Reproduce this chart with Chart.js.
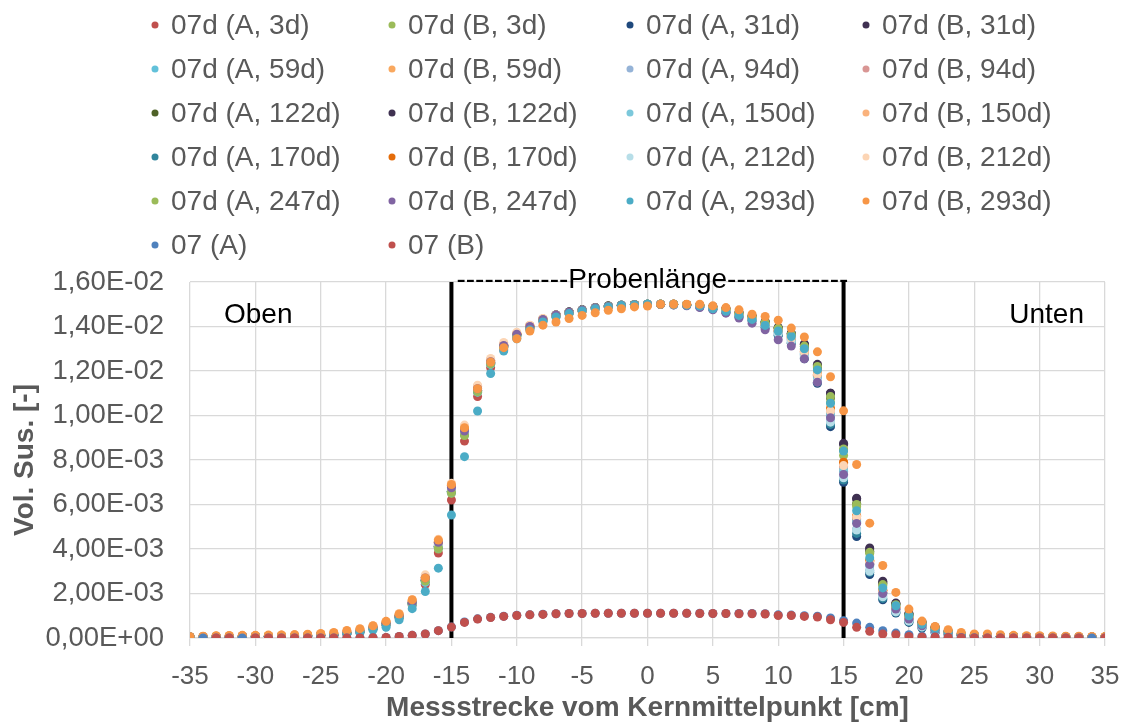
<!DOCTYPE html>
<html>
<head>
<meta charset="utf-8">
<script src="https://cdn.jsdelivr.net/npm/chart.js@4.4.1/dist/chart.umd.min.js"></script>
<style>
  html, body { margin: 0; padding: 0; background: #fff; }
  #wrap { width: 1125px; height: 724px; }
</style>
</head>
<body>
<div id="wrap"><canvas id="susChart" width="1125" height="724"></canvas></div>
<script>
// Messpositionen in cm (-35 ... 35)
const positions = [
  -35,-34,-33,-32,-31,-30,-29,-28,-27,-26,-25,-24,
  -23,-22,-21,-20,-19,-18,-17,-16,-15,-14,-13,-12,-11,-10,-9,-8,-7,-6,-5,-4,-3,-2,-1,
  0,1,2,3,4,5,6,7,8,9,10,11,12,13,14,15,16,17,18,19,20,21,22,23,
  24,25,26,27,28,29,30,31,32,33,34,35
];

// Vol. Sus. in Einheiten von 1E-03
const a3d = [0.05,0.05,0.06,0.06,0.07,0.07,0.08,0.08,0.09,0.1,0.11,0.14,
  0.2,0.28,0.42,0.6,0.92, 1.48,2.4,3.82,6.2,8.85, 10.85,12.15,12.95,13.5,13.9, 14.25,14.45,14.6,14.7,14.8,
  14.88,14.93,14.97,14.98,15.0, 15.0,14.97,14.92,14.85,14.72, 14.55,14.38,14.1,13.8,13.48,
  12.85,11.8,10.1,7.7,5.35, 3.35,2.05,1.3,0.88,0.58, 0.37,0.24,
  0.15,0.11,0.09,0.08,0.07,0.06,0.06,0.05,0.05,0.05,0.04,0.04];
const b3d = [0.05,0.05,0.06,0.06,0.07,0.07,0.08,0.08,0.09,0.1,0.11,0.14,
  0.22,0.3,0.45,0.63,0.96, 1.55,2.55,4.0,6.5,9.1, 11.05,12.3,13.05,13.6,13.95, 14.3,14.5,14.62,14.73,14.83,
  14.9,14.95,14.98,15.0,15.0, 15.0,14.98,14.94,14.86,14.76, 14.58,14.42,14.15,13.9,13.6,
  13.0,12.05,10.6,8.2,5.9, 3.8,2.35,1.5,1.0,0.65, 0.42,0.27,
  0.15,0.11,0.09,0.08,0.07,0.06,0.06,0.05,0.05,0.05,0.04,0.04];
const a31d = [0.05,0.05,0.06,0.06,0.07,0.07,0.08,0.08,0.09,0.1,0.11,0.14,
  0.21,0.29,0.44,0.62,0.95, 1.55,2.6,4.1,6.6,9.2, 11.1,12.35,13.1,13.6,13.95, 14.3,14.5,14.62,14.73,14.83,
  14.9,14.95,14.98,15.0,15.0, 14.98,14.95,14.88,14.78,14.65, 14.45,14.28,13.95,13.6,13.25,
  12.55,11.45,9.5,7.0,4.56, 2.85,1.72,1.12,0.7,0.45, 0.25,0.15,
  0.12,0.1,0.08,0.07,0.06,0.06,0.05,0.05,0.04,0.04,0.04,0.03];
const b31d = [0.05,0.05,0.06,0.06,0.07,0.07,0.08,0.08,0.09,0.1,0.11,0.14,
  0.22,0.3,0.45,0.64,0.97, 1.57,2.62,4.15,6.65,9.25, 11.15,12.4,13.15,13.65,14.0, 14.33,14.52,14.65,14.75,14.85,
  14.92,14.96,14.99,15.0,15.0, 15.0,14.98,14.95,14.88,14.8, 14.62,14.45,14.2,13.95,13.68,
  13.2,12.25,11.0,8.75,6.28, 4.05,2.55,1.57,1.1,0.72, 0.5,0.3,
  0.17,0.12,0.1,0.08,0.07,0.06,0.06,0.05,0.05,0.05,0.04,0.04];
const a59d = [0.05,0.05,0.06,0.06,0.07,0.07,0.08,0.08,0.09,0.1,0.11,0.14,
  0.21,0.29,0.43,0.6,0.93, 1.5,2.5,4.05,6.55,9.15, 11.05,12.3,13.05,13.58,13.95, 14.28,14.48,14.62,14.73,14.83,
  14.9,14.95,14.98,15.0,15.0, 14.99,14.96,14.9,14.82,14.7, 14.52,14.35,14.05,13.75,13.4,
  12.75,11.7,10.0,7.5,5.2, 3.25,2.0,1.3,0.85,0.56, 0.35,0.22,
  0.15,0.11,0.09,0.08,0.07,0.06,0.06,0.05,0.05,0.05,0.04,0.04];
const b59d = [0.06,0.07,0.08,0.09,0.1,0.1,0.11,0.12,0.13,0.14,0.16,0.2,
  0.28,0.36,0.52,0.72,1.05, 1.68,2.75,4.35,6.85,9.45, 11.3,12.5,13.2,13.7,14.05, 14.35,14.52,14.63,14.73,14.82,
  14.88,14.93,14.97,14.98,15.0, 15.0,14.98,14.93,14.85,14.75, 14.55,14.4,14.12,13.85,13.55,
  12.95,11.95,10.35,7.9,5.45, 3.45,2.15,1.38,0.92,0.62, 0.4,0.26,
  0.18,0.13,0.1,0.09,0.08,0.07,0.07,0.06,0.06,0.05,0.05,0.05];
const a94d = [0.05,0.05,0.06,0.06,0.07,0.07,0.08,0.08,0.09,0.1,0.11,0.14,
  0.22,0.3,0.45,0.63,0.97, 1.57,2.65,4.2,6.7,9.25, 11.15,12.4,13.12,13.62,13.97, 14.3,14.5,14.63,14.74,14.84,
  14.9,14.95,14.98,15.0,15.0, 14.99,14.96,14.9,14.8,14.68, 14.5,14.32,14.02,13.7,13.35,
  12.7,11.6,9.8,7.3,4.9, 3.05,1.9,1.2,0.8,0.52, 0.33,0.2,
  0.14,0.1,0.09,0.08,0.07,0.06,0.06,0.05,0.05,0.05,0.04,0.04];
const b94d = [0.05,0.05,0.06,0.06,0.07,0.07,0.08,0.08,0.09,0.1,0.11,0.14,
  0.23,0.31,0.46,0.65,0.99, 1.6,2.7,4.25,6.75,9.3, 11.2,12.4,13.12,13.62,13.97, 14.3,14.5,14.62,14.73,14.83,
  14.9,14.95,14.98,15.0,15.0, 15.0,14.97,14.92,14.83,14.72, 14.55,14.38,14.08,13.8,13.48,
  12.85,11.8,10.15,7.6,5.3, 3.3,2.05,1.32,0.87,0.58, 0.37,0.24,
  0.15,0.11,0.09,0.08,0.07,0.06,0.06,0.05,0.05,0.05,0.04,0.04];
const a122d = [0.05,0.05,0.06,0.06,0.07,0.07,0.08,0.08,0.09,0.1,0.11,0.14,
  0.21,0.29,0.44,0.62,0.95, 1.55,2.58,4.1,6.6,9.2, 11.12,12.38,13.12,13.63,13.98, 14.32,14.52,14.65,14.75,14.85,
  14.92,14.96,14.99,15.0,15.0, 15.0,14.98,14.94,14.86,14.76, 14.58,14.42,14.18,13.92,13.62,
  13.1,12.15,10.8,8.45,6.05, 3.9,2.45,1.52,1.05,0.68, 0.45,0.28,
  0.16,0.12,0.1,0.08,0.07,0.06,0.06,0.05,0.05,0.05,0.04,0.04];
const b122d = [0.05,0.05,0.06,0.06,0.07,0.07,0.08,0.08,0.09,0.1,0.11,0.14,
  0.22,0.3,0.45,0.63,0.96, 1.56,2.6,4.12,6.62,9.22, 11.13,12.38,13.12,13.63,13.98, 14.32,14.52,14.65,14.75,14.85,
  14.92,14.96,14.99,15.0,15.0, 15.0,14.99,14.96,14.9,14.8, 14.62,14.47,14.22,13.95,13.7,
  13.22,12.3,11.0,8.7,6.25, 4.0,2.5,1.55,1.08,0.7, 0.48,0.3,
  0.17,0.12,0.1,0.08,0.07,0.06,0.06,0.05,0.05,0.05,0.04,0.04];
const a150d = [0.05,0.05,0.06,0.06,0.07,0.07,0.08,0.08,0.09,0.1,0.11,0.14,
  0.21,0.29,0.43,0.61,0.94, 1.52,2.55,4.08,6.58,9.18, 11.08,12.32,13.07,13.58,13.95, 14.28,14.48,14.62,14.73,14.83,
  14.9,14.95,14.98,15.0,15.0, 14.99,14.96,14.9,14.82,14.7, 14.52,14.35,14.05,13.75,13.42,
  12.8,11.75,10.05,7.55,5.25, 3.3,2.02,1.3,0.86,0.56, 0.35,0.22,
  0.15,0.11,0.09,0.08,0.07,0.06,0.06,0.05,0.05,0.05,0.04,0.04];
const b150d = [0.06,0.07,0.08,0.09,0.1,0.1,0.11,0.12,0.13,0.14,0.16,0.2,
  0.27,0.35,0.5,0.7,1.03, 1.66,2.72,4.3,6.8,9.4, 11.28,12.48,13.18,13.68,14.02, 14.33,14.5,14.62,14.72,14.82,
  14.88,14.93,14.97,14.98,15.0, 15.0,14.98,14.93,14.85,14.75, 14.56,14.4,14.12,13.85,13.55,
  12.95,11.95,10.35,7.85,5.45, 3.45,2.15,1.38,0.92,0.62, 0.4,0.26,
  0.18,0.13,0.1,0.09,0.08,0.07,0.07,0.06,0.06,0.05,0.05,0.05];
const a170d = [0.05,0.05,0.06,0.06,0.07,0.07,0.08,0.08,0.09,0.1,0.11,0.14,
  0.21,0.29,0.44,0.62,0.95, 1.54,2.58,4.1,6.6,9.18, 11.1,12.35,13.1,13.6,13.95, 14.3,14.5,14.62,14.73,14.83,
  14.9,14.95,14.98,15.0,15.0, 14.98,14.95,14.88,14.78,14.65, 14.45,14.28,13.95,13.62,13.28,
  12.6,11.5,9.6,7.1,4.7, 2.95,1.78,1.15,0.73,0.47, 0.27,0.16,
  0.12,0.1,0.08,0.07,0.06,0.06,0.05,0.05,0.04,0.04,0.04,0.03];
const b170d = [0.06,0.07,0.08,0.09,0.1,0.1,0.11,0.12,0.13,0.14,0.16,0.2,
  0.26,0.34,0.49,0.68,1.02, 1.64,2.7,4.28,6.85,9.4, 11.28,12.47,13.17,13.67,14.02, 14.33,14.5,14.62,14.72,14.82,
  14.88,14.93,14.97,14.98,15.0, 15.0,14.97,14.92,14.84,14.72, 14.55,14.38,14.08,13.8,13.48,
  12.85,11.85,10.3,7.9,5.5, 3.5,2.15,1.38,0.9,0.6, 0.38,0.25,
  0.17,0.12,0.1,0.09,0.08,0.07,0.07,0.06,0.06,0.05,0.05,0.05];
const a212d = [0.05,0.05,0.06,0.06,0.07,0.07,0.08,0.08,0.09,0.1,0.11,0.14,
  0.21,0.29,0.44,0.62,0.95, 1.55,2.6,4.15,6.65,9.25, 11.15,12.38,13.1,13.6,13.95, 14.3,14.5,14.62,14.73,14.83,
  14.9,14.95,14.98,15.0,15.0, 14.98,14.95,14.89,14.8,14.68, 14.48,14.3,14.0,13.68,13.32,
  12.65,11.55,9.7,7.2,4.85, 3.0,1.85,1.18,0.76,0.5, 0.3,0.18,
  0.13,0.1,0.08,0.07,0.06,0.06,0.05,0.05,0.04,0.04,0.04,0.03];
const b212d = [0.06,0.07,0.08,0.09,0.1,0.1,0.11,0.12,0.13,0.14,0.16,0.2,
  0.3,0.38,0.55,0.75,1.1, 1.72,2.84,4.44,6.95,9.57, 11.36,12.56,13.28,13.74,14.06, 14.36,14.52,14.63,14.73,14.82,
  14.88,14.93,14.97,14.98,15.0, 15.0,14.98,14.93,14.85,14.74, 14.55,14.38,14.08,13.8,13.48,
  12.85,11.85,10.2,7.75,5.45, 3.4,2.1,1.35,0.9,0.6, 0.38,0.25,
  0.17,0.12,0.1,0.09,0.08,0.07,0.07,0.06,0.06,0.05,0.05,0.05];
const a247d = [0.05,0.05,0.06,0.06,0.07,0.07,0.08,0.08,0.09,0.1,0.11,0.14,
  0.22,0.3,0.45,0.63,0.96, 1.55,2.56,4.05,6.55,9.12, 11.08,12.33,13.08,13.6,13.95, 14.3,14.5,14.63,14.74,14.84,
  14.91,14.96,14.99,15.0,15.0, 15.0,14.98,14.95,14.88,14.78, 14.6,14.44,14.18,13.92,13.65,
  13.12,12.2,10.85,8.5,6.0, 3.85,2.4,1.5,1.02,0.66, 0.44,0.28,
  0.16,0.12,0.1,0.08,0.07,0.06,0.06,0.05,0.05,0.05,0.04,0.04];
const b247d = [0.05,0.05,0.06,0.06,0.07,0.07,0.08,0.08,0.09,0.1,0.11,0.14,
  0.23,0.31,0.46,0.65,0.99, 1.6,2.7,4.3,6.75,9.3, 11.2,12.42,13.15,13.65,14.0, 14.32,14.52,14.64,14.74,14.84,
  14.9,14.95,14.98,14.99,14.99, 14.97,14.93,14.85,14.75,14.6, 14.38,14.15,13.85,13.4,13.12,
  12.55,11.5,9.9,7.35,5.15, 3.3,2.0,1.3,0.85,0.55, 0.35,0.22,
  0.14,0.1,0.09,0.08,0.07,0.06,0.06,0.05,0.05,0.05,0.04,0.04];
const a293d = [0.05,0.05,0.06,0.06,0.07,0.07,0.08,0.08,0.09,0.1,0.11,0.13,
  0.18,0.24,0.36,0.48,0.82, 1.32,2.09,3.14,5.53,8.15, 10.2,11.89,12.9,13.45,13.85, 14.2,14.43,14.58,14.7,14.8,
  14.88,14.94,14.97,15.0,15.0, 14.99,14.96,14.92,14.8,14.68, 14.5,14.32,14.05,13.8,13.55,
  13.0,12.05,10.55,8.4,5.72, 3.6,2.25,1.45,1.0,0.62, 0.4,0.25,
  0.16,0.12,0.1,0.08,0.07,0.06,0.06,0.05,0.05,0.05,0.04,0.04];
const b293d = [0.06,0.08,0.1,0.11,0.12,0.12,0.13,0.14,0.15,0.17,0.2,0.25,
  0.34,0.42,0.55,0.75,1.08, 1.72,2.7,4.4,6.9,9.45, 11.2,12.4,13.05,13.45,13.8, 14.06,14.2,14.36,14.5,14.62,
  14.73,14.8,14.88,14.92,15.0, 15.0,15.0,15.0,14.93,14.85, 14.75,14.55,14.45,14.28,13.93,
  13.53,12.86,11.74,10.21,7.8, 5.16,3.26,2.05,1.3,0.76, 0.52,0.37,
  0.25,0.18,0.18,0.15,0.12,0.1,0.1,0.09,0.08,0.08,0.07,0.07];
const ref07a = [null,0,0,0,0,0,0,0,0,0,0,0,
  0,0,0.01,0.02,0.07, 0.12,0.18,0.33,0.5,0.72, 0.86,0.93,0.98,1.02,1.05, 1.07,1.09,1.1,1.1,1.11,
  1.11,1.11,1.11,1.11,1.11, 1.11,1.11,1.11,1.1,1.1, 1.1,1.1,1.09,1.04,1.03,
  1.0,0.98,0.9,0.78,0.67, 0.48,0.33,0.22,0.15,0.08, 0.05,0.03,
  0.02,0.01,0,0,0,0,0,0,0,0,0,0];
const ref07b = [null,null,0,0,null,0,0,0,0,0,0,0,
  0,0,0.01,0.02,0.07, 0.12,0.18,0.33,0.49,0.7, 0.85,0.92,0.97,1.01,1.04, 1.06,1.09,1.1,1.1,1.11,
  1.11,1.11,1.11,1.11,1.11, 1.11,1.11,1.1,1.1,1.1, 1.09,1.09,1.08,1.01,1.01,
  0.97,0.94,0.82,0.7,0.48, 0.3,0.18,0.15,0.07,0.05, 0.04,0.02,
  0.01,0,0,0,0,0,0,0,0,0,null,0];

const seriesLabels = [
  '07d (A, 3d)', '07d (B, 3d)', '07d (A, 31d)', '07d (B, 31d)',
  '07d (A, 59d)', '07d (B, 59d)', '07d (A, 94d)', '07d (B, 94d)',
  '07d (A, 122d)', '07d (B, 122d)', '07d (A, 150d)', '07d (B, 150d)',
  '07d (A, 170d)', '07d (B, 170d)', '07d (A, 212d)', '07d (B, 212d)',
  '07d (A, 247d)', '07d (B, 247d)', '07d (A, 293d)', '07d (B, 293d)',
  '07 (A)', '07 (B)'
];
const seriesColors = [
  '#C0504D', '#9BBB59', '#1F497D', '#403152',
  '#62C1DA', '#F9A85F', '#95B3D7', '#D99694',
  '#4F6228', '#3F3151', '#7CC8DB', '#FAB27C',
  '#31859C', '#E46C0A', '#B7DEE8', '#FCD5B5',
  '#9BBB59', '#8064A2', '#4BACC6', '#F79646',
  '#4F81BD', '#C0504D'
];
const seriesValues = [
  a3d, b3d, a31d, b31d, a59d, b59d, a94d, b94d, a122d, b122d,
  a150d, b150d, a170d, b170d, a212d, b212d, a247d, b247d, a293d, b293d,
  ref07a, ref07b
];

// Probenlänge: Kante oben / unten
const probeEdges = [-15, 15];
const probeTop = 16;
const probeLabel = '------------Probenlänge-------------';
const endLabels = ['Oben', 'Unten'];

const FONT = "'Liberation Sans', Arial, sans-serif";
const GREY = '#595959';

const N = seriesValues.length;
const datasets = seriesValues.map((vals, i) => ({
  label: seriesLabels[i],
  data: positions.map((x, j) => ({ x: x, y: vals[j] })).filter(p => p.y !== null),
  backgroundColor: seriesColors[i],
  borderColor: seriesColors[i],
  pointRadius: 4.5,
  pointHoverRadius: 4.5,
  pointBorderWidth: 0,
  order: N - i  // spätere Reihen oben, wie in Excel
}));

probeEdges.forEach(x => {
  datasets.push({
    label: '',
    data: [{ x: x, y: 0 }, { x: x, y: probeTop }],
    showLine: true,
    borderColor: '#000',
    borderWidth: 4,
    pointRadius: 0,
    order: 100
  });
});

function fmtSci(v) {
  if (v === 0) return '0,00E+00';
  const s = (v / 1000).toExponential(2);
  const parts = s.split('e');
  const exp = parseInt(parts[1], 10);
  const sign = exp < 0 ? '-' : '+';
  return parts[0].replace('.', ',') + 'E' + sign + String(Math.abs(exp)).padStart(2, '0');
}

// Legende + Beschriftungen direkt aufs Canvas
const overlay = {
  id: 'overlay',
  afterDraw(chart) {
    const ctx = chart.ctx;
    const area = chart.chartArea;
    const xs = chart.scales.x;
    ctx.save();

    // Legende 4 Spalten
    const colX = [155, 392, 630, 866];
    ctx.font = '28px ' + FONT;
    ctx.textBaseline = 'middle';
    ctx.textAlign = 'left';
    seriesLabels.forEach((lab, i) => {
      const cx = colX[i % 4];
      const cy = 25 + Math.floor(i / 4) * 44;
      ctx.fillStyle = seriesColors[i];
      ctx.beginPath();
      ctx.arc(cx, cy, 3.5, 0, Math.PI * 2);
      ctx.fill();
      ctx.fillStyle = GREY;
      ctx.fillText(lab, cx + 16, cy + 1);
    });

    // Probenlänge über der Probe
    const p0 = xs.getPixelForValue(probeEdges[0]);
    ctx.fillStyle = '#000';
    ctx.font = '28px ' + FONT;
    ctx.textAlign = 'left';
    ctx.textBaseline = 'alphabetic';
    ctx.fillText(probeLabel, p0 + 5, area.top + 6);

    // Oben / Unten
    ctx.fillText(endLabels[0], area.left + 34, area.top + 41);
    ctx.textAlign = 'right';
    ctx.fillText(endLabels[1], area.right - 21, area.top + 41);
    ctx.restore();
  }
};

new Chart(document.getElementById('susChart'), {
  type: 'scatter',
  data: { datasets: datasets },
  options: {
    responsive: false,
    animation: false,
    events: [],
    layout: { padding: { top: 282, right: 20, left: 0, bottom: 0 } },
    plugins: {
      legend: { display: false },
      tooltip: { enabled: false }
    },
    scales: {
      x: {
        type: 'linear',
        min: -35,
        max: 35,
        afterFit: s => { s.height = 86; s.paddingLeft = 0; s.paddingRight = 0; },
        ticks: { stepSize: 5, color: GREY, font: { family: FONT, size: 26 }, padding: 15 },
        grid: { color: '#D9D9D9', lineWidth: 1.3, tickLength: 8 },
        border: { color: '#D9D9D9', width: 1.3 },
        title: {
          display: true,
          text: 'Messstrecke vom Kernmittelpunkt [cm]',
          color: GREY,
          font: { family: FONT, size: 28, weight: 'bold', lineHeight: 1 },
          padding: { top: 0, bottom: 2 }
        }
      },
      y: {
        min: 0,
        max: probeTop,
        afterFit: s => { s.width = 190; s.paddingTop = 0; s.paddingBottom = 0; },
        ticks: {
          stepSize: 2,
          color: GREY,
          font: { family: FONT, size: 27.5 },
          padding: 26,
          callback: v => fmtSci(v)
        },
        grid: { color: '#D9D9D9', lineWidth: 1.3, drawTicks: false },
        border: { display: false },
        title: {
          display: true,
          text: 'Vol. Sus. [-]',
          color: GREY,
          font: { family: FONT, size: 28, weight: 'bold', lineHeight: 1 },
          padding: { top: 11, bottom: 0 }
        }
      }
    }
  },
  plugins: [overlay]
});
</script>
</body>
</html>
